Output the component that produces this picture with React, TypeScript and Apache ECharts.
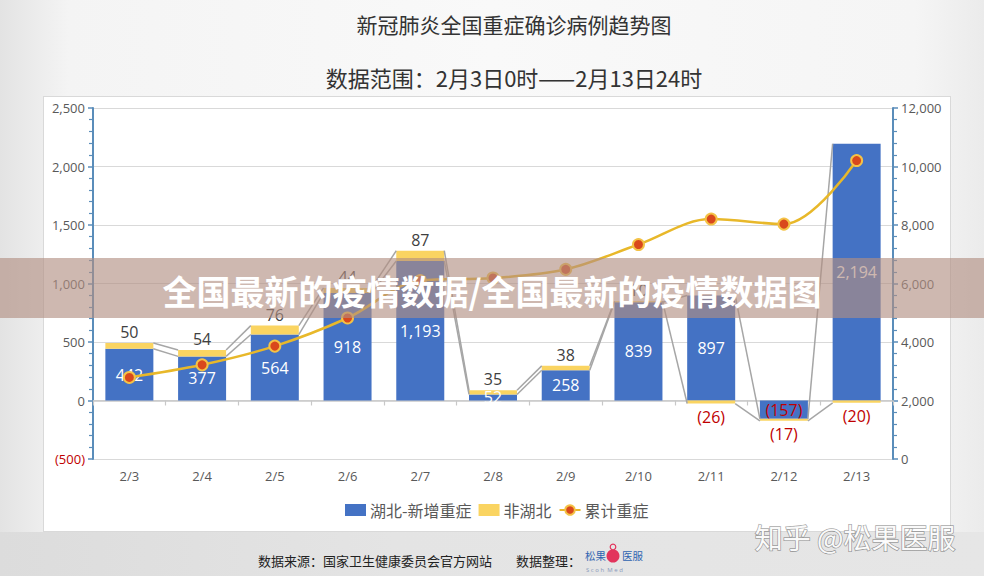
import React, { useEffect, useRef } from 'react';
import * as echarts from 'echarts';

// ---------- data ----------
const categories = ['2/3', '2/4', '2/5', '2/6', '2/7', '2/8', '2/9', '2/10', '2/11', '2/12', '2/13'];
const hubeiNew = [442, 377, 564, 918, 1193, 52, 258, 839, 897, -157, 2194];
const nonHubei = [50, 54, 76, 44, 87, 35, 38, 10, -26, -17, -20];
const cumulative = [2788, 3219, 3859, 4821, 6101, 6188, 6484, 7333, 8204, 8030, 10204];
const leftAxisRange = [-500, 2500, 500];
const rightAxisRange = [0, 12000, 2000];

const titleMain = '新冠肺炎全国重症确诊病例趋势图';
const titleSub = '数据范围：2月3日0时——2月13日24时';
const bannerText = '全国最新的疫情数据/全国最新的疫情数据图';
const watermark = '知乎 @松果医服';
const sourceText = '数据来源：国家卫生健康委员会官方网站';
const arrangedText = '数据整理：';

const FONT = "'Open Sans','Noto Sans CJK SC',sans-serif";
const CJK = "'Noto Sans CJK SC',sans-serif";
const BLUE = '#4472C4';
const YELLOW = '#FAD461';
const AXIS_BLUE = '#5a8dba';
const RED = '#c00000';

const fmt = (v: number) =>
  v < 0 ? `(${Math.abs(v).toLocaleString('en-US')})` : v.toLocaleString('en-US');

// ends of stacked segments (same-sign stacking)
const blueEnd = hubeiNew.slice();
const yellowEnd = nonHubei.map((y, i) => {
  const b = hubeiNew[i];
  if (y >= 0) return (b >= 0 ? b : 0) + y;
  return (b < 0 ? b : 0) + y;
});
const seriesLineData = categories.slice(0, -1).map((_, i) => [i, blueEnd[i], yellowEnd[i], blueEnd[i + 1], yellowEnd[i + 1]]);

const txt = (x: number, y: number, text: string, extra: any, align = 'left', z = 50) => ({
  type: 'text',
  x,
  y,
  z,
  style: {
    text,
    align,
    verticalAlign: 'middle',
    textAlign: align,
    textVerticalAlign: 'middle',
    ...extra,
  },
});

export default function App() {
  const ref = useRef<HTMLDivElement>(null);

  useEffect(() => {
    if (!ref.current) return;
    const chart = echarts.init(ref.current, undefined, { renderer: 'svg' });

    const axisCommon = {
      type: 'value' as const,
      axisLine: { show: true, lineStyle: { color: AXIS_BLUE, width: 2 } },
      axisTick: { show: true, length: 5, lineStyle: { color: AXIS_BLUE, width: 1.5 } },
      minorTick: { show: true, splitNumber: 5, length: 4, lineStyle: { color: AXIS_BLUE, width: 1.2 } },
      axisLabel: {
        color: '#595959',
        fontSize: 13,
        fontFamily: FONT,
        margin: 8,
        formatter: (v: number) => (v < 0 ? `{r|${fmt(v)}}` : fmt(v)),
        rich: { r: { color: RED, fontSize: 13, fontFamily: FONT } },
      },
    };

    const option: any = {
      animation: false,
      textStyle: { fontFamily: FONT },
      grid: { left: 93, right: 91, top: 108, bottom: 117, containLabel: false },
      legend: {
        data: [
          { name: '湖北-新增重症', icon: 'rect' },
          { name: '非湖北', icon: 'rect' },
          { name: '累计重症' },
        ],
        left: 340,
        top: 497,
        itemWidth: 21,
        itemHeight: 12,
        itemGap: 7,
        textStyle: { color: '#595959', fontSize: 16, fontFamily: CJK, padding: [0, 0, 0, -1] },
      },
      xAxis: [
        {
          type: 'category',
          data: categories,
          position: 'bottom',
          axisLine: { show: false, onZero: false },
          axisTick: { show: false },
          axisLabel: { color: '#595959', fontSize: 13, fontFamily: FONT, margin: 10 },
          splitLine: { show: false },
        },
        {
          type: 'category',
          data: categories,
          position: 'bottom',
          axisLine: { show: true, onZero: true, onZeroAxisIndex: 0, lineStyle: { color: '#c8c8c8', width: 1.5 } },
          axisTick: { show: true, length: 5, lineStyle: { color: '#c8c8c8', width: 1.2 } },
          axisLabel: { show: false },
          splitLine: { show: false },
        },
      ],
      yAxis: [
        {
          ...axisCommon,
          position: 'left',
          min: leftAxisRange[0],
          max: leftAxisRange[1],
          interval: leftAxisRange[2],
          splitLine: { show: true, lineStyle: { color: '#d9d9d9', width: 1.2 } },
        },
        {
          ...axisCommon,
          position: 'right',
          min: rightAxisRange[0],
          max: rightAxisRange[1],
          interval: rightAxisRange[2],
          splitLine: { show: false },
        },
      ],
      series: [
        {
          name: '湖北-新增重症',
          type: 'bar',
          stack: 'total',
          xAxisIndex: 0,
          yAxisIndex: 0,
          barCategoryGap: '34%',
          itemStyle: { color: BLUE },
          label: {
            show: true,
            position: 'inside',
            formatter: (p: any) => (p.value < 0 ? `{r|${fmt(p.value)}}` : `{w|${fmt(p.value)}}`),
            rich: {
              w: { color: '#ffffff', fontSize: 16, fontFamily: FONT },
              r: { color: RED, fontSize: 16, fontFamily: FONT },
            },
          },
          data: hubeiNew,
          z: 2,
        },
        {
          name: '非湖北',
          type: 'bar',
          stack: 'total',
          xAxisIndex: 0,
          yAxisIndex: 0,
          barCategoryGap: '34%',
          itemStyle: { color: YELLOW },
          label: {
            show: true,
            distance: 3,
            formatter: (p: any) => (p.value < 0 ? `{r|${fmt(p.value)}}` : `{k|${fmt(p.value)}}`),
            rich: {
              k: { color: '#404040', fontSize: 16, fontFamily: FONT },
              r: { color: RED, fontSize: 16, fontFamily: FONT },
            },
          },
          data: nonHubei.map((v) => ({
            value: v,
            label: { position: v < 0 ? 'bottom' : 'top', distance: v < 0 ? 5 : 3 },
          })),
          z: 2,
        },
        {
          name: 'seriesLines',
          type: 'custom',
          xAxisIndex: 0,
          yAxisIndex: 0,
          silent: true,
          clip: false,
          z: 3,
          renderItem: (params: any, api: any) => {
            const i = api.value(0);
            const hw = api.size([1, 0])[0] * 0.33;
            const a1 = api.coord([i, api.value(1)]);
            const a2 = api.coord([i + 1, api.value(3)]);
            const b1 = api.coord([i, api.value(2)]);
            const b2 = api.coord([i + 1, api.value(4)]);
            const st = { stroke: '#a6a6a6', lineWidth: 1.5 };
            return {
              type: 'group',
              children: [
                { type: 'line', shape: { x1: a1[0] + hw, y1: a1[1], x2: a2[0] - hw, y2: a2[1] }, style: st },
                { type: 'line', shape: { x1: b1[0] + hw, y1: b1[1], x2: b2[0] - hw, y2: b2[1] }, style: st },
              ],
            };
          },
          data: seriesLineData,
        },
        {
          name: '累计重症',
          type: 'line',
          xAxisIndex: 0,
          yAxisIndex: 1,
          smooth: 0.35,
          symbol: 'circle',
          symbolSize: 11,
          lineStyle: { color: '#E8B82A', width: 2.5 },
          itemStyle: { color: '#D9481C', borderColor: '#F4C246', borderWidth: 2 },
          data: cumulative,
          z: 5,
        },
      ],
      graphic: {
        elements: [
          txt(514, 24, titleMain, { fill: '#333333', fontSize: 21, fontFamily: CJK }, 'center'),
          txt(514, 77, titleSub, { fill: '#333333', fontSize: 22, fontFamily: CJK }, 'center'),
          {
            type: 'rect',
            z: 100,
            shape: { x: 0, y: 258, width: 984, height: 60 },
            style: { fill: 'rgba(178,143,130,0.63)' },
          },
          txt(492, 290, bannerText, { fill: '#ffffff', fontSize: 34, fontWeight: 'bold', fontFamily: CJK }, 'center', 101),
          txt(855, 537, watermark, {
            fill: 'rgba(255,255,255,0.96)', stroke: 'rgba(80,80,80,0.5)', lineWidth: 1.5,
            fontSize: 28, fontFamily: CJK,
          }, 'center', 101),
          txt(258, 560, sourceText, { fill: '#222222', fontSize: 13, fontFamily: CJK }),
          txt(516, 560, arrangedText, { fill: '#222222', fontSize: 13, fontFamily: CJK }),
          txt(585, 555, '松果', { fill: '#2e63b0', fontSize: 10.5, fontFamily: CJK }),
          { type: 'circle', z: 50, shape: { cx: 613, cy: 556, r: 6.5 }, style: { fill: '#e2345c' } },
          { type: 'circle', z: 50, shape: { cx: 613, cy: 547, r: 2.8 }, style: { fill: 'none', stroke: '#e2345c', lineWidth: 1.2 } },
          txt(622, 555, '医服', { fill: '#2e63b0', fontSize: 10.5, fontFamily: CJK }),
          txt(586, 570, 'S c o h  M e d', { fill: '#8899bb', fontSize: 6, fontFamily: FONT }),
        ],
      },
    };

    chart.setOption(option);
    return () => chart.dispose();
  }, []);

  return (
    <div
      style={{
        position: 'absolute',
        left: 0,
        top: 0,
        width: 984,
        height: 576,
        overflow: 'hidden',
        background: 'linear-gradient(to right, #e3e3e3 0%, #f4f4f4 7%, #f9f9f9 50%, #f5f5f5 93%, #ebebeb 100%)',
      }}
    >
      <div
        style={{
          position: 'absolute',
          left: 0,
          top: 532,
          width: 984,
          height: 44,
          background: 'linear-gradient(to right, #dcdcdc 0%, #e4e4e4 40%, #e6e6e6 100%)',
        }}
      />
      <div
        style={{
          position: 'absolute',
          left: 43,
          top: 96,
          width: 908,
          height: 436,
          background: '#ffffff',
          border: '1px solid #d9d9d9',
          boxSizing: 'border-box',
        }}
      />
      <div ref={ref} style={{ position: 'absolute', left: 0, top: 0, width: 984, height: 576 }} />
    </div>
  );
}
